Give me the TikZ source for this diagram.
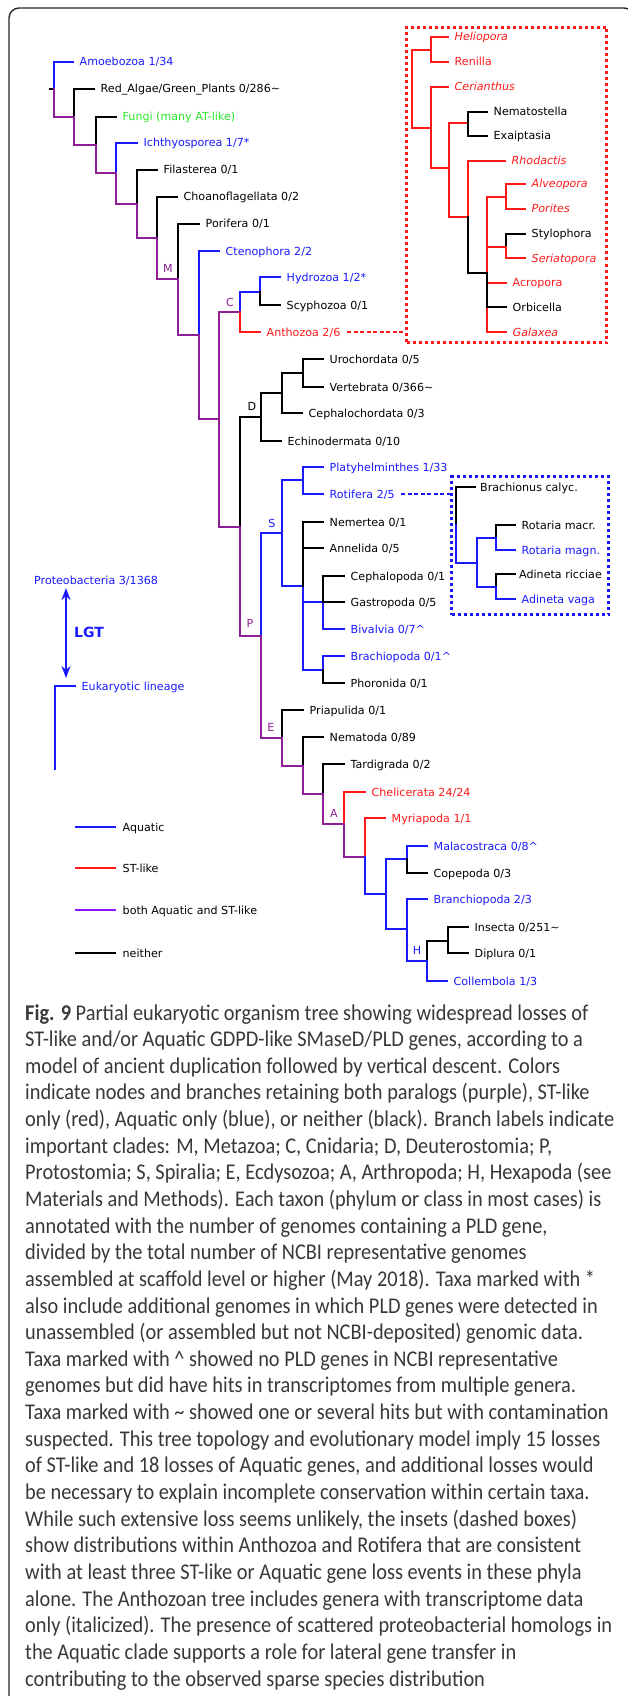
\documentclass[tikz,border=0pt]{standalone}
\usepackage{fontspec}
\setmainfont{DejaVu Sans}
\newfontfamily\capfont[FakeStretch=0.905]{Carlito}
\usetikzlibrary{arrows.meta}
\definecolor{aq}{RGB}{25,25,255}
\definecolor{stl}{RGB}{255,25,25}
\definecolor{bth}{RGB}{140,30,150}
\definecolor{bthleg}{RGB}{140,20,255}
\definecolor{fun}{RGB}{40,230,40}
\definecolor{frm}{RGB}{40,40,40}
\begin{document}
\begin{tikzpicture}[x=1pt,y=-1pt,
  br/.style={line width=2pt,line cap=rect},
  leaf/.style={anchor=west,inner xsep=6.5pt,inner ysep=0pt,text height=8pt,text depth=0pt,font=\fontsize{11.1}{13}\selectfont},
  cl/.style={inner sep=0pt,font=\fontsize{11.1}{13}\selectfont},
  capl/.style={anchor=base west,inner sep=0pt,text=black!78,font=\capfont\fontsize{22.5}{27}\selectfont},
  insetbox/.style={draw,line width=3pt,dash pattern=on 3pt off 3pt,anchor=north west,inner sep=0pt},
  link/.style={line width=2pt,dash pattern=on 4pt off 2.5pt},
  legline/.style={line width=2.2pt}
]
\useasboundingbox (0,0) rectangle (627,1696);
\draw[line width=1.4pt,frm,rounded corners=10pt] (9,1720) -- (9,8) -- (634,8) -- (634,1720);

% ---------- leaves of main tree ----------
\node[leaf,text=aq] (amoe) at (73,62) {Amoebozoa 1/34};
\node[leaf] (redalg) at (94,89) {Red\_Algae/Green\_Plants 0/286\textasciitilde};
\node[leaf,text=fun] (fungi) at (116,117) {Fungi (many AT-like)};
\node[leaf,text=aq] (ichth) at (137,143) {Ichthyosporea 1/7*};
\node[leaf] (filas) at (157,170) {Filasterea 0/1};
\node[leaf] (choano) at (177,197) {Choanoflagellata 0/2};
\node[leaf] (porif) at (199,224) {Porifera 0/1};
\node[leaf,text=aq] (cteno) at (219,251) {Ctenophora 2/2};
\node[leaf,text=aq] (hydro) at (280,277) {Hydrozoa 1/2*};
\node[leaf] (scypho) at (280,305) {Scyphozoa 0/1};
\node[leaf,text=stl] (antho) at (260,332) {Anthozoa 2/6};
\node[leaf] (uro) at (323,359) {Urochordata 0/5};
\node[leaf] (vert) at (323,387) {Vertebrata 0/366\textasciitilde};
\node[leaf] (cephalo) at (302,413) {Cephalochordata 0/3};
\node[leaf] (echino) at (281,441) {Echinodermata 0/10};
\node[leaf,text=aq] (platy) at (323,467) {Platyhelminthes 1/33};
\node[leaf,text=aq] (rotif) at (323,494) {Rotifera 2/5};
\node[leaf] (nemer) at (323,522) {Nemertea 0/1};
\node[leaf] (annel) at (323,548) {Annelida 0/5};
\node[leaf] (cephpod) at (344,576) {Cephalopoda 0/1};
\node[leaf] (gastro) at (344,602) {Gastropoda 0/5};
\node[leaf,text=aq] (bival) at (344,629) {Bivalvia 0/7\textasciicircum};
\node[leaf,text=aq] (brachio) at (344,656) {Brachiopoda 0/1\textasciicircum};
\node[leaf] (phoron) at (344,683) {Phoronida 0/1};
\node[leaf] (priap) at (303,710) {Priapulida 0/1};
\node[leaf] (nemat) at (323,737) {Nematoda 0/89};
\node[leaf] (tardi) at (344,764) {Tardigrada 0/2};
\node[leaf,text=stl] (chelic) at (365,792) {Chelicerata 24/24};
\node[leaf,text=stl] (myria) at (385,818) {Myriapoda 1/1};
\node[leaf,text=aq] (malac) at (427,846) {Malacostraca 0/8\textasciicircum};
\node[leaf] (copep) at (427,873) {Copepoda 0/3};
\node[leaf,text=aq] (branchio) at (427,899) {Branchiopoda 2/3};
\node[leaf] (insecta) at (468,927) {Insecta 0/251\textasciitilde};
\node[leaf] (diplura) at (468,953) {Diplura 0/1};
\node[leaf,text=aq] (collem) at (447,981) {Collembola 1/3};

% ---------- internal nodes of main tree ----------
\coordinate (rs) at (50,89);
\coordinate (r0) at (54,89);
\coordinate (n1) at (74,117);
\coordinate (n2) at (96,145);
\coordinate (n3) at (116,173);
\coordinate (n4) at (137,204);
\coordinate (n5) at (157,238);
\coordinate (nM) at (178,279);
\coordinate (n6) at (199,335);
\coordinate (n7) at (219,419);
\coordinate (nC) at (240,312);
\coordinate (nHy) at (260,292);
\coordinate (nBil) at (240,527);
\coordinate (nD) at (261,417);
\coordinate (nCh) at (282,393);
\coordinate (nOl) at (303,373);
\coordinate (nP) at (261,636);
\coordinate (nS) at (282,533);
\coordinate (nPR) at (303,480);
\coordinate (nLo) at (303,586);
\coordinate (nMo) at (323,602);
\coordinate (nBr) at (323,670);
\coordinate (nE) at (282,738);
\coordinate (nN1) at (303,766);
\coordinate (nN2) at (323,794);
\coordinate (nA) at (344,824);
\coordinate (nMa) at (365,857);
\coordinate (nPc) at (386,894);
\coordinate (nMC) at (407,859);
\coordinate (nAl) at (407,929);
\coordinate (nH) at (427,961);
\coordinate (nIn) at (448,941);

% ---------- branches of main tree ----------
\draw[br] (rs) -- (r0);
\draw[br,aq] (r0) |- (amoe.west);
\draw[br,bth] (r0) |- (n1);
\draw[br] (n1) |- (redalg.west);
\draw[br,bth] (n1) |- (n2);
\draw[br] (n2) |- (fungi.west);
\draw[br,bth] (n2) |- (n3);
\draw[br,aq] (n3) |- (ichth.west);
\draw[br,bth] (n3) |- (n4);
\draw[br] (n4) |- (filas.west);
\draw[br,bth] (n4) |- (n5);
\draw[br] (n5) |- (choano.west);
\draw[br,bth] (n5) |- (nM);
\draw[br] (nM) |- (porif.west);
\draw[br,bth] (nM) |- (n6);
\draw[br,aq] (n6) |- (cteno.west);
\draw[br,bth] (n6) |- (n7);
\draw[br,bth] (n7) |- (nC);
\draw[br,bth] (n7) |- (nBil);
\draw[br,aq] (nC) |- (nHy);
\draw[br,stl] (nC) |- (antho.west);
\draw[br,aq] (nHy) |- (hydro.west);
\draw[br] (nHy) |- (scypho.west);
\draw[br] (nBil) |- (nD);
\draw[br,bth] (nBil) |- (nP);
\draw[br] (nD) |- (nCh);
\draw[br] (nD) |- (echino.west);
\draw[br] (nCh) |- (nOl);
\draw[br] (nCh) |- (cephalo.west);
\draw[br] (nOl) |- (uro.west);
\draw[br] (nOl) |- (vert.west);
\draw[br,aq] (nP) |- (nS);
\draw[br,bth] (nP) |- (nE);
\draw[br,aq] (nS) |- (nPR);
\draw[br,aq] (nS) |- (nLo);
\draw[br,aq] (nPR) |- (platy.west);
\draw[br,aq] (nPR) |- (rotif.west);
\draw[br,aq] (nLo) |- (nMo);
\draw[br,aq] (nLo) |- (nBr);
\draw[br] (nLo) |- (nemer.west);
\draw[br] (nLo) |- (annel.west);
\draw[br,aq] (nMo) |- (bival.west);
\draw[br] (nMo) |- (cephpod.west);
\draw[br] (nMo) -- (gastro.west);
\draw[br,aq] (nBr) |- (brachio.west);
\draw[br] (nBr) |- (phoron.west);
\draw[br] (nE) |- (priap.west);
\draw[br,bth] (nE) |- (nN1);
\draw[br] (nN1) |- (nemat.west);
\draw[br,bth] (nN1) |- (nN2);
\draw[br] (nN2) |- (tardi.west);
\draw[br,bth] (nN2) |- (nA);
\draw[br,stl] (nA) |- (chelic.west);
\draw[br,bth] (nA) |- (nMa);
\draw[br,stl] (nMa) |- (myria.west);
\draw[br,aq] (nMa) |- (nPc);
\draw[br,aq] (nPc) |- (nMC);
\draw[br,aq] (nPc) |- (nAl);
\draw[br,aq] (nMC) |- (malac.west);
\draw[br] (nMC) |- (copep.west);
\draw[br,aq] (nAl) |- (branchio.west);
\draw[br,aq] (nAl) |- (nH);
\draw[br] (nH) |- (nIn);
\draw[br,aq] (nH) |- (collem.west);
\draw[br] (nIn) |- (insecta.west);
\draw[br] (nIn) |- (diplura.west);

% ---------- clade labels ----------
\node[cl,text=bth] (lM) at (168,268) {M};
\node[cl,text=bth] (lC) at (230,302) {C};
\node[cl] (lD) at (252,406) {D};
\node[cl,text=bth] (lP) at (250,623) {P};
\node[cl,text=aq] (lS) at (272,523) {S};
\node[cl,text=bth] (lE) at (271,727) {E};
\node[cl,text=bth] (lA) at (334,813) {A};
\node[cl,text=aq] (lH) at (417,950) {H};

% ---------- Anthozoa inset ----------
\node[insetbox,draw=stl,minimum width=200pt,minimum height=315pt] (antbox) at (405,26) {};
\node[leaf,text=stl,font=\fontsize{11.1}{13}\selectfont\itshape] (helio) at (448,37) {Heliopora};
\node[leaf,text=stl] (renil) at (448,62) {Renilla};
\node[leaf,text=stl,font=\fontsize{11.1}{13}\selectfont\itshape] (ceria) at (448,87) {Cerianthus};
\node[leaf] (nemato) at (487,112) {Nematostella};
\node[leaf] (exaip) at (487,136) {Exaiptasia};
\node[leaf,text=stl,font=\fontsize{11.1}{13}\selectfont\itshape] (rhoda) at (505,161) {Rhodactis};
\node[leaf,text=stl,font=\fontsize{11.1}{13}\selectfont\itshape] (alveo) at (525,184) {Alveopora};
\node[leaf,text=stl,font=\fontsize{11.1}{13}\selectfont\itshape] (porit) at (525,209) {Porites};
\node[leaf] (stylo) at (525,234) {Stylophora};
\node[leaf,text=stl,font=\fontsize{11.1}{13}\selectfont\itshape] (seria) at (525,258) {Seriatopora};
\node[leaf,text=stl] (acro) at (506,283) {Acropora};
\node[leaf] (orbi) at (506,307) {Orbicella};
\node[leaf,text=stl,font=\fontsize{11.1}{13}\selectfont\itshape] (gala) at (506,332) {Galaxea};
\coordinate (aR) at (412,89);
\coordinate (aHR) at (431,50);
\coordinate (aX) at (431,128);
\coordinate (aY) at (449,168);
\coordinate (aNE) at (468,123);
\coordinate (aZ) at (468,217);
\coordinate (aW) at (487,273);
\coordinate (aAP) at (506,197);
\coordinate (aSS) at (506,247);
\draw[br,stl] (aR) |- (aHR);
\draw[br,stl] (aR) |- (aX);
\draw[br,stl] (aHR) |- (helio.west);
\draw[br,stl] (aHR) |- (renil.west);
\draw[br,stl] (aX) |- (ceria.west);
\draw[br,stl] (aX) |- (aY);
\draw[br,stl] (aY) |- (aNE);
\draw[br,stl] (aY) |- (aZ);
\draw[br] (aNE) |- (nemato.west);
\draw[br] (aNE) |- (exaip.west);
\draw[br,stl] (aZ) |- (rhoda.west);
\draw[br] (aZ) |- (aW);
\draw[br,stl] (aW) |- (aAP);
\draw[br,stl] (aW) |- (aSS);
\draw[br,stl] (aW |- acro.west) -- (acro.west);
\draw[br,stl] (aW |- orbi.west) |- (gala.west);
\draw[br] (aW) |- (orbi.west);
\draw[br,stl] (aAP) |- (alveo.west);
\draw[br,stl] (aAP) |- (porit.west);
\draw[br] (aSS) |- (stylo.west);
\draw[br,stl] (aSS) |- (seria.west);
\draw[link,stl] (antho.east) -- (antho.east -| antbox.west);

% ---------- Rotifera inset ----------
\node[insetbox,draw=aq,minimum width=157pt,minimum height=138pt] (rotbox) at (450,475) {};
\node[leaf,inner xsep=5pt] (brachion) at (475,487) {Brachionus calyc.};
\node[leaf] (rmacr) at (515,525) {Rotaria macr.};
\node[leaf,text=aq] (rmagn) at (515,550) {Rotaria magn.};
\node[leaf,inner xsep=4pt] (aricc) at (515,574) {Adineta ricciae};
\node[leaf,text=aq] (avaga) at (515,599) {Adineta vaga};
\coordinate (bR) at (456,525);
\coordinate (bB) at (477,563);
\coordinate (bRo) at (496,538);
\coordinate (bAd) at (496,587);
\draw[br] (bR) |- (brachion.west);
\draw[br,aq] (bR) |- (bB);
\draw[br,aq] (bB) |- (bRo);
\draw[br,aq] (bB) |- (bAd);
\draw[br] (bRo) |- (rmacr.west);
\draw[br,aq] (bRo) |- (rmagn.west);
\draw[br] (bAd) |- (aricc.west);
\draw[br,aq] (bAd) |- (avaga.west);
\draw[link,aq] (rotif.east) -- (rotif.east -| rotbox.west);

% ---------- LGT ----------
\node[leaf,inner xsep=0pt,text=aq] (prot) at (34,580) {Proteobacteria 3/1368};
\node[cl,anchor=west,text=aq,font=\fontsize{14}{16}\selectfont\bfseries] (lgt) at (74,632) {LGT};
\coordinate (lgtA) at (66,588);
\coordinate (lgtB) at (66,678);
\draw[aq,line width=2pt,{Stealth[length=12pt,width=9pt]}-{Stealth[length=12pt,width=9pt]}] (lgtA) -- (lgtB);
\node[leaf,text=aq] (euk) at (75,686) {Eukaryotic lineage};
\coordinate (eukb) at (55,769);
\draw[br,aq] (eukb) |- (euk.west);

% ---------- legend ----------
\node[leaf] (lg1) at (116,827) {Aquatic};
\node[leaf] (lg2) at (116,868) {ST-like};
\node[leaf] (lg3) at (116,910) {both Aquatic and ST-like};
\node[leaf] (lg4) at (116,953) {neither};
\coordinate (lg1s) at (75,827);
\coordinate (lg2s) at (75,868);
\coordinate (lg3s) at (75,910);
\coordinate (lg4s) at (75,953);
\draw[legline,aq] (lg1s) -- (lg1.west);
\draw[legline,stl] (lg2s) -- (lg2.west);
\draw[legline,bthleg] (lg3s) -- (lg3.west);
\draw[legline] (lg4s) -- (lg4.west);

% ---------- caption ----------
\node[capl] (c1) at (25,1020) {\textbf{Fig. 9} Partial eukaryotic organism tree showing widespread losses of};
\node[capl] (c2) at (25,1046.64) {ST-like and/or Aquatic GDPD-like SMaseD/PLD genes, according to a};
\node[capl] (c3) at (25,1073.28) {model of ancient duplication followed by vertical descent. Colors};
\node[capl] (c4) at (25,1099.92) {indicate nodes and branches retaining both paralogs (purple), ST-like};
\node[capl] (c5) at (25,1126.56) {only (red), Aquatic only (blue), or neither (black). Branch labels indicate};
\node[capl] (c6) at (25,1153.2) {important clades: M, Metazoa; C, Cnidaria; D, Deuterostomia; P,};
\node[capl] (c7) at (25,1179.84) {Protostomia; S, Spiralia; E, Ecdysozoa; A, Arthropoda; H, Hexapoda (see};
\node[capl] (c8) at (25,1206.48) {Materials and Methods). Each taxon (phylum or class in most cases) is};
\node[capl] (c9) at (25,1233.12) {annotated with the number of genomes containing a PLD gene,};
\node[capl] (c10) at (25,1259.76) {divided by the total number of NCBI representative genomes};
\node[capl] (c11) at (25,1286.4) {assembled at scaffold level or higher (May 2018). Taxa marked with *};
\node[capl] (c12) at (25,1313.04) {also include additional genomes in which PLD genes were detected in};
\node[capl] (c13) at (25,1339.68) {unassembled (or assembled but not NCBI-deposited) genomic data.};
\node[capl] (c14) at (25,1366.32) {Taxa marked with \textasciicircum{} showed no PLD genes in NCBI representative};
\node[capl] (c15) at (25,1392.96) {genomes but did have hits in transcriptomes from multiple genera.};
\node[capl] (c16) at (25,1419.6) {Taxa marked with \textasciitilde{} showed one or several hits but with contamination};
\node[capl] (c17) at (25,1446.24) {suspected. This tree topology and evolutionary model imply 15 losses};
\node[capl] (c18) at (25,1472.88) {of ST-like and 18 losses of Aquatic genes, and additional losses would};
\node[capl] (c19) at (25,1499.52) {be necessary to explain incomplete conservation within certain taxa.};
\node[capl] (c20) at (25,1526.16) {While such extensive loss seems unlikely, the insets (dashed boxes)};
\node[capl] (c21) at (25,1552.8) {show distributions within Anthozoa and Rotifera that are consistent};
\node[capl] (c22) at (25,1579.44) {with at least three ST-like or Aquatic gene loss events in these phyla};
\node[capl] (c23) at (25,1606.08) {alone. The Anthozoan tree includes genera with transcriptome data};
\node[capl] (c24) at (25,1632.72) {only (italicized). The presence of scattered proteobacterial homologs in};
\node[capl] (c25) at (25,1659.36) {the Aquatic clade supports a role for lateral gene transfer in};
\node[capl] (c26) at (25,1686) {contributing to the observed sparse species distribution};
\end{tikzpicture}
\end{document}
